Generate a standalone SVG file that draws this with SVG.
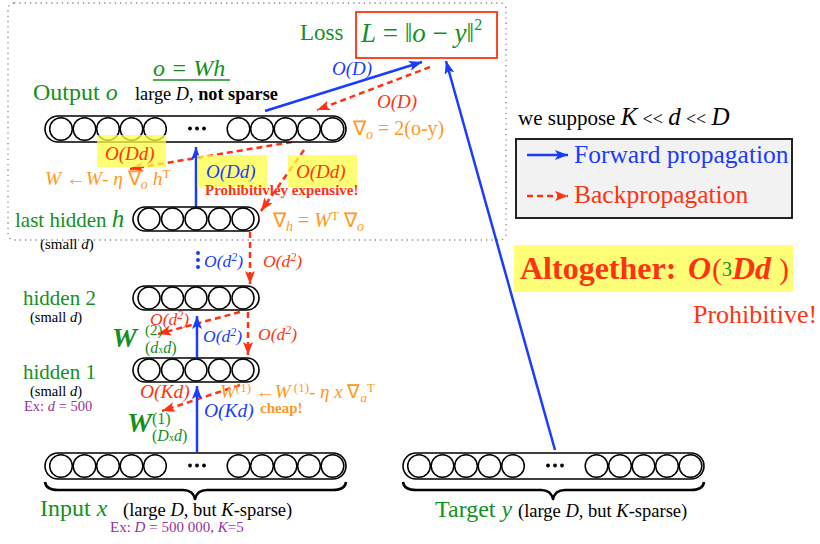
<svg xmlns="http://www.w3.org/2000/svg" width="820" height="544" viewBox="0 0 820 544">
<style>
text{font-family:"Liberation Serif","Times New Roman",serif}
.lay{fill:#fff;stroke:#000;stroke-width:1.6}
.cir{fill:none;stroke:#000;stroke-width:1.5}
.fw{stroke:#1a3cff;stroke-width:2.5;fill:none;marker-end:url(#ab)}
.bw{stroke:#ff3311;stroke-width:2.5;stroke-dasharray:6 4;fill:none;marker-end:url(#ar)}
.hl{fill:#ffff44;fill-opacity:0.75}
.g{fill:#14901e}
.b{fill:#1a3cff}
.r{fill:#ff3311}
.o{fill:#ff9922}
.p{fill:#993399}
.k{fill:#000}
.i{font-style:italic}
.brace{fill:none;stroke:#000;stroke-width:2.6;stroke-linejoin:round}
</style>
<defs>
<marker id="ab" markerUnits="userSpaceOnUse" markerWidth="14" markerHeight="12" refX="13" refY="5" orient="auto">
<path d="M0,0 L13,5 L0,10 L3,5 z" fill="#1a3cff"/>
</marker>
<marker id="ar" markerUnits="userSpaceOnUse" markerWidth="14" markerHeight="12" refX="13" refY="5" orient="auto">
<path d="M0,0 L13,5 L0,10 L3,5 z" fill="#ff3311"/>
</marker>
<g id="wide">
<rect class="lay" x="0" y="0" width="301" height="26" rx="13"/>
<g class="cir">
<circle cx="16" cy="13" r="11.3"/><circle cx="39.5" cy="13" r="11.3"/><circle cx="63" cy="13" r="11.3"/><circle cx="86.5" cy="13" r="11.3"/><circle cx="110" cy="13" r="11.3"/>
<circle cx="193.5" cy="13" r="11.3"/><circle cx="217" cy="13" r="11.3"/><circle cx="240.5" cy="13" r="11.3"/><circle cx="264" cy="13" r="11.3"/><circle cx="287.5" cy="13" r="11.3"/>
</g>
<circle cx="145" cy="12.5" r="1.9"/><circle cx="152" cy="12.5" r="1.9"/><circle cx="159" cy="12.5" r="1.9"/>
</g>
<g id="small">
<rect class="lay" x="0" y="0" width="126" height="24" rx="12"/>
<g class="cir">
<circle cx="16" cy="12" r="11"/><circle cx="39.5" cy="12" r="11"/><circle cx="63" cy="12" r="11"/><circle cx="86.5" cy="12" r="11"/><circle cx="110" cy="12" r="11"/>
</g>
</g>
<path id="br" class="brace" d="M0,29 Q1,37 13,37 L138,37 Q148,37 150,46 Q152,37 162,37 L288,37 Q300,37 301,29"/>
</defs>

<rect x="8" y="3" width="498" height="237" rx="6" fill="none" stroke="#888" stroke-width="1.3" stroke-dasharray="1.3 4"/>

<g id="connectors">
<line class="fw" x1="265" y1="111" x2="422" y2="62"/>
<line class="bw" x1="430" y1="67" x2="317" y2="110"/>
<line class="fw" x1="555" y1="450" x2="446" y2="61"/>
<line class="bw" x1="292" y1="142" x2="130" y2="169"/>
<line class="fw" x1="196" y1="207" x2="196" y2="147"/>
<line class="bw" x1="304" y1="150" x2="261" y2="211"/>
<line class="bw" x1="250" y1="232" x2="250" y2="284"/>
<g fill="#1a3cff"><circle cx="198" cy="253" r="2"/><circle cx="198" cy="260" r="2"/><circle cx="198" cy="267" r="2"/></g>
<line class="bw" x1="240" y1="312" x2="158" y2="334"/>
<line class="fw" x1="197" y1="357" x2="197" y2="316"/>
<line class="bw" x1="248" y1="312" x2="248" y2="355"/>
<line class="bw" x1="240" y1="385" x2="162" y2="411"/>
<line class="fw" x1="197" y1="452" x2="197" y2="386"/>
</g>

<g id="loss">
<text x="300" y="40" font-size="23" class="g">Loss</text>
<rect x="356" y="12" width="141" height="46" fill="#fff" stroke="#ff3311" stroke-width="1.8"/>
<text x="361" y="42" font-size="27" class="g"><tspan class="i">L</tspan> = ‖<tspan class="i">o</tspan> − <tspan class="i">y</tspan>‖<tspan font-size="16" dy="-12">2</tspan></text>
</g>
<text x="332" y="75" font-size="19" class="b i">O(D)</text>
<text x="377" y="108" font-size="19" class="r i">O(D)</text>

<g id="output-layer">
<use href="#wide" x="45" y="116"/>
<text x="153" y="76" font-size="24" class="g i">o = Wh</text>
<line x1="153" y1="80" x2="230" y2="80" stroke="#14901e" stroke-width="1.3"/>
<text x="33" y="100" font-size="24" class="g">Output <tspan class="i">o</tspan></text>
<text x="135" y="100" font-size="18.3" class="k">large <tspan class="i">D</tspan>, <tspan font-weight="bold">not sparse</tspan></text>
<text x="353" y="135" font-size="20" class="o">∇<tspan class="i" font-size="14" dy="4">o</tspan><tspan dy="-4"> = 2(o-y)</tspan></text>
</g>

<rect class="hl" x="97" y="135" width="69" height="32"/>
<text x="105" y="160" font-size="19" class="r i">O(Dd)</text>
<text x="45" y="185" font-size="19.5" class="o"><tspan class="i">W</tspan> ←<tspan class="i">W</tspan>- <tspan class="i">η</tspan> ∇<tspan class="i" font-size="14" dy="4">o</tspan><tspan class="i" dy="-4"> h</tspan><tspan font-size="13" dy="-7">T</tspan></text>
<rect class="hl" x="197" y="155" width="70" height="32"/>
<text x="206" y="178" font-size="19" class="b i">O(Dd)</text>
<rect class="hl" x="288" y="155" width="69" height="32"/>
<text x="296" y="178" font-size="19" class="r i">O(Dd)</text>
<text x="205" y="195" font-size="15" font-weight="bold" class="r">Prohibitivley expensive!</text>

<g id="hidden-h">
<use href="#small" x="133" y="207"/>
<text x="15" y="227" font-size="21" class="g">last hidden <tspan class="i" font-size="25">h</tspan></text>
<text x="40" y="249" font-size="15" class="k">(small <tspan class="i">d</tspan>)</text>
<text x="273" y="227" font-size="20" class="o">∇<tspan class="i" font-size="14" dy="4">h</tspan><tspan dy="-4"> = </tspan><tspan class="i">W</tspan><tspan font-size="13" dy="-7">T</tspan><tspan dy="7"> ∇</tspan><tspan class="i" font-size="14" dy="4">o</tspan></text>
</g>
<text x="204" y="267" font-size="17.5" class="b i">O(d<tspan font-size="12" dy="-6">2</tspan><tspan dy="6">)</tspan></text>
<text x="263" y="267" font-size="17.5" class="r i">O(d<tspan font-size="12" dy="-6">2</tspan><tspan dy="6">)</tspan></text>

<g id="hidden-2">
<use href="#small" x="133" y="286"/>
<text x="23" y="305" font-size="21" class="g">hidden 2</text>
<text x="30" y="322" font-size="14.5" class="k">(small <tspan class="i">d</tspan>)</text>
<text x="112" y="347" font-size="28" font-weight="bold" class="g i">W</text>
<text x="145" y="335" font-size="15" class="g">(2)</text>
<text x="145" y="353" font-size="16" class="g">(<tspan class="i">d</tspan><tspan font-size="10">x</tspan><tspan class="i">d</tspan>)</text>
</g>
<text x="150" y="325" font-size="17.5" class="r i">O(d<tspan font-size="12" dy="-6">2</tspan><tspan dy="6">)</tspan></text>
<text x="203" y="342" font-size="17.5" class="b i">O(d<tspan font-size="12" dy="-6">2</tspan><tspan dy="6">)</tspan></text>
<text x="258" y="340" font-size="17.5" class="r i">O(d<tspan font-size="12" dy="-6">2</tspan><tspan dy="6">)</tspan></text>

<g id="hidden-1">
<use href="#small" x="133" y="358"/>
<text x="23" y="379" font-size="21" class="g">hidden 1</text>
<text x="30" y="396" font-size="14.5" class="k">(small <tspan class="i">d</tspan>)</text>
<text x="24" y="411" font-size="14.5" class="p">Ex: <tspan class="i">d</tspan> = 500</text>
<text x="127" y="432" font-size="28" font-weight="bold" class="g i">W</text>
<text x="152" y="424" font-size="16" class="g">(1)</text>
<text x="152" y="441" font-size="16" class="g">(<tspan class="i">D</tspan><tspan font-size="10">x</tspan><tspan class="i">d</tspan>)</text>
</g>
<text x="140" y="398" font-size="19.5" class="r i">O(Kd)</text>
<text x="220" y="398" font-size="19" class="o"><tspan class="i">W</tspan><tspan font-size="13" dy="-6">(1)</tspan><tspan dy="6"> ←</tspan><tspan class="i">W</tspan><tspan font-size="13" dy="-6"> (1)</tspan><tspan dy="6">- </tspan><tspan class="i">η x</tspan> ∇<tspan class="i" font-size="13" dy="4">a</tspan><tspan font-size="13" dy="-10">T</tspan></text>
<text x="204" y="417" font-size="19.5" class="b i">O(Kd)</text>
<text x="260" y="413" font-size="15" font-weight="bold" class="o">cheap!</text>

<g id="input-layer">
<use href="#wide" x="45" y="453"/>
<use href="#br" x="45" y="453"/>
<text x="40" y="516" font-size="24" class="g">Input <tspan class="i">x</tspan></text>
<text x="123" y="516" font-size="18.5" class="k">(large <tspan class="i">D</tspan>, but <tspan class="i">K</tspan>-sparse)</text>
<text x="110" y="532" font-size="15" class="p">Ex: <tspan class="i">D</tspan> = 500 000, <tspan class="i">K</tspan>=5</text>
</g>

<g id="target-layer">
<use href="#wide" x="403" y="453"/>
<use href="#br" x="403" y="453"/>
<text x="435" y="517" font-size="24" class="g">Target <tspan class="i">y</tspan></text>
<text x="518" y="517" font-size="18.5" class="k">(large <tspan class="i">D</tspan>, but <tspan class="i">K</tspan>-sparse)</text>
</g>

<g id="legend">
<text x="518" y="125" font-size="21" class="k">we suppose <tspan class="i" font-size="25">K</tspan> <tspan font-size="18">&lt;&lt;</tspan> <tspan class="i" font-size="25">d</tspan> <tspan font-size="18">&lt;&lt;</tspan> <tspan class="i" font-size="25">D</tspan></text>
<rect x="516" y="139" width="276" height="79" fill="#f2f2f2" stroke="#222" stroke-width="2"/>
<line class="fw" x1="527" y1="155" x2="568" y2="155" stroke-width="2"/>
<text x="574" y="163" font-size="25.5" class="b">Forward propagation</text>
<line class="bw" x1="527" y1="196" x2="568" y2="196" stroke-width="2"/>
<text x="574" y="203" font-size="25.5" class="r">Backpropagation</text>
</g>

<g id="altogether">
<rect x="514" y="245" width="279" height="47" fill="#ffff77"/>
<text x="520" y="279" font-size="32" font-weight="bold" class="r">Altogether:</text>
<text x="688" y="279" font-size="32" font-weight="bold" class="r i">O</text>
<text x="712" y="279" font-size="30" class="r">(</text>
<text x="722" y="276" font-size="20" fill="#14901e" font-family="Liberation Sans, sans-serif">3</text>
<text x="732" y="279" font-size="32" font-weight="bold" class="r i">Dd</text>
<text x="779" y="279" font-size="30" class="r">)</text>
<text x="693" y="323" font-size="26" class="r">Prohibitive!</text>
</g>
</svg>
